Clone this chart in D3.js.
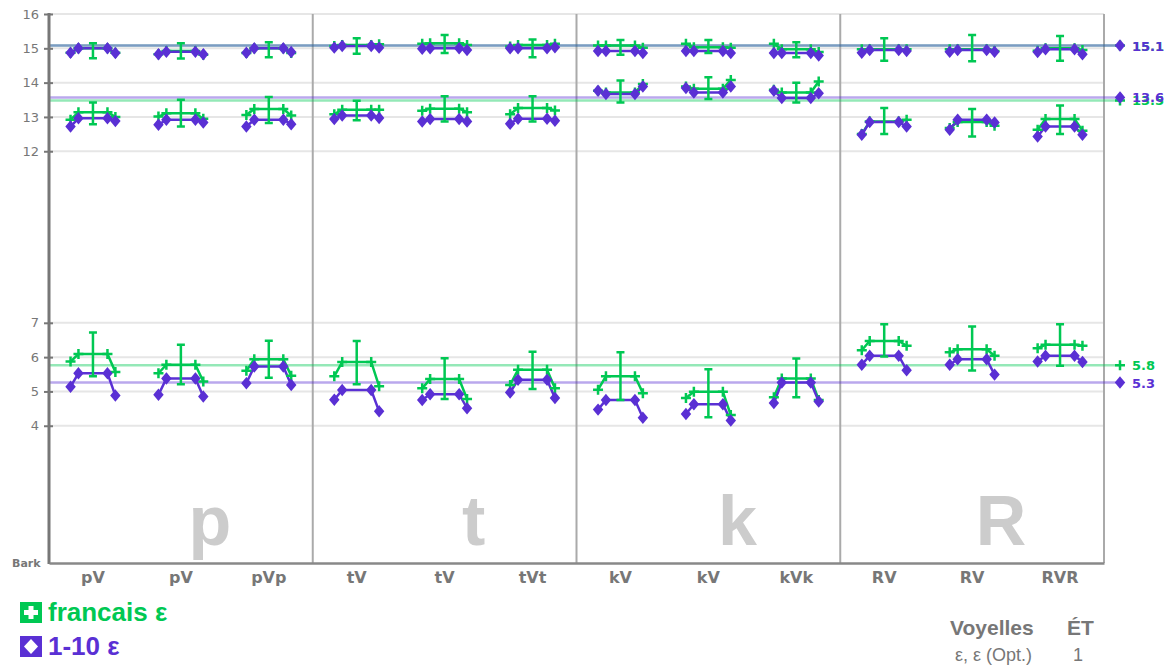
<!DOCTYPE html>
<html><head><meta charset="utf-8">
<script src="https://cdn.jsdelivr.net/npm/d3@7"></script>
<style>body{margin:0;background:#fff}svg{display:block}</style>
</head><body>
<svg id="c" width="1166" height="666"></svg>
<script>
// ---------- DATA ----------
const groups = ["pV","pV","pVp","tV","tV","tVt","kV","kV","kVk","RV","RV","RVR"];
const panels = ["p","t","k","R"];
const yTicks = [4,5,6,7,12,13,14,15,16];
const seriesNames = ["francais ε","1-10 ε"];

// francais ε (green): 4 points per group [start, v1, v2, end]
const frF3 = [[14.87,15.00,15.00,14.87],[14.83,14.92,14.92,14.81],[14.86,15.00,15.00,14.86],
  [15.07,15.10,15.10,15.12],[15.13,15.15,15.15,15.10],[15.05,15.10,15.10,15.13],
  [15.08,15.08,15.08,15.02],[15.13,15.03,15.03,15.02],[15.13,14.97,14.97,14.89],
  [14.97,14.97,14.97,14.97],[14.97,14.97,14.97,14.92],[14.93,15.00,15.00,14.95]];
const frF2 = [[12.92,13.14,13.14,13.00],[13.01,13.11,13.11,12.95],[13.06,13.23,13.23,13.04],
  [13.08,13.21,13.21,13.21],[13.18,13.24,13.24,13.14],[13.08,13.26,13.26,13.19],
  [13.76,13.71,13.71,13.96],[13.89,13.82,13.82,14.08],[13.79,13.71,13.71,14.03],
  [12.50,12.87,12.87,12.92],[12.68,12.85,12.85,12.74],[12.63,12.94,12.94,12.60]];
const frF1 = [[5.87,6.09,6.09,5.57],[5.53,5.78,5.78,5.29],[5.60,5.94,5.94,5.46],
  [5.44,5.86,5.86,5.15],[5.09,5.36,5.36,4.78],[5.19,5.63,5.63,5.09],
  [5.05,5.44,5.44,4.95],[4.81,4.99,4.99,4.31],[4.83,5.38,5.38,4.75],
  [6.20,6.47,6.47,6.33],[6.14,6.23,6.23,6.04],[6.26,6.36,6.36,6.33]];
// error bars (low, high) of francais ε
const frF3Err = [[14.71,15.15],[14.70,15.15],[14.74,15.18],[14.84,15.29],[14.86,15.39],[14.74,15.26],
  [14.81,15.24],[14.86,15.24],[14.74,15.18],[14.64,15.29],[14.62,15.39],[14.64,15.36]];
const frF2Err = [[12.79,13.42],[12.72,13.50],[12.82,13.58],[12.90,13.47],[12.87,13.60],[12.87,13.60],
  [13.42,14.06],[13.52,14.16],[13.42,14.00],[12.50,13.26],[12.43,13.23],[12.50,13.33]];
const frF1Err = [[5.44,6.72],[5.21,6.36],[5.40,6.48],[5.21,6.47],[4.78,5.97],[5.07,6.16],
  [4.75,6.14],[4.25,5.65],[4.83,5.96],[6.02,6.96],[5.61,6.89],[5.75,6.96]];

// 1-10 ε (purple)
const puF3 = [[14.87,15.00,15.00,14.86],[14.83,14.90,14.90,14.83],[14.87,15.00,15.00,14.89],
  [15.02,15.07,15.07,15.02],[14.99,15.00,15.00,14.95],[15.00,15.00,15.00,15.03],
  [14.92,14.92,14.92,14.86],[14.92,14.92,14.92,14.86],[14.86,14.86,14.86,14.79],
  [14.87,14.95,14.95,14.92],[14.90,14.95,14.95,14.90],[14.89,14.97,14.97,14.83]];
const puF2 = [[12.72,12.96,12.96,12.88],[12.77,12.92,12.92,12.84],[12.72,12.92,12.92,12.79],
  [12.94,13.04,13.04,12.97],[12.87,12.94,12.94,12.87],[12.80,12.95,12.95,12.89],
  [13.76,13.67,13.67,13.89],[13.84,13.71,13.71,13.89],[13.76,13.55,13.55,13.69],
  [12.48,12.85,12.85,12.72],[12.63,12.92,12.92,12.84],[12.43,12.72,12.72,12.48]];
const puF1 = [[5.14,5.53,5.53,4.88],[4.90,5.38,5.38,4.85],[5.24,5.73,5.73,5.19],
  [4.76,5.04,5.04,4.42],[4.75,4.92,4.92,4.51],[4.97,5.34,5.34,4.81],
  [4.47,4.75,4.75,4.23],[4.34,4.63,4.63,4.15],[4.66,5.26,5.26,4.71],
  [5.78,6.04,6.04,5.62],[5.78,5.94,5.94,5.49],[5.87,6.04,6.04,5.86]];

// reference (mean) lines
const frRef = [5.76, 13.48, 15.08];
const puRef = [5.26, 13.57, 15.08];

// ---------- LAYOUT ----------
const GREEN = "#00c853", PURPLE = "#5a30d4", GREY = "#777";
const svg = d3.select("#c");
const L = 49, R = 1104, T = 14, B = 563;
const x = d3.scaleBand().domain(d3.range(groups.length)).range([L, R]);
const y = d3.scaleLinear().domain([0, 16]).range([B, T]);
const slot = [0.245, 0.335, 0.665, 0.755];
const px = (g, k) => x(g) + slot[k] * x.bandwidth();
const cx = g => x(g) + x.bandwidth() / 2;

// gridlines
svg.append("g").selectAll("line").data(yTicks).join("line")
  .attr("x1", L).attr("x2", R).attr("y1", d => y(d)).attr("y2", d => y(d))
  .attr("stroke", "#e6e6e6").attr("stroke-width", 2);

// big panel letters
const pw = (R - L) / panels.length;
svg.append("g").selectAll("text").data(panels).join("text")
  .attr("x", (d, i) => L + pw * i + pw / 2 + 29).attr("y", 545)
  .attr("text-anchor", "middle").attr("font-family", "Liberation Sans, Arial, sans-serif")
  .attr("font-weight", "bold").attr("font-size", 70).attr("fill", "#cccccc").text(d => d);

// panel separators + right border
const seps = d3.range(1, panels.length).map(i => x(i * 3));
svg.append("g").selectAll("line").data(seps.concat([R])).join("line")
  .attr("x1", d => d).attr("x2", d => d).attr("y1", T).attr("y2", B)
  .attr("stroke", "#aaa").attr("stroke-width", 2);

// reference lines
function refLine(vals, color, marker) {
  const g = svg.append("g");
  g.selectAll("line").data(vals).join("line")
    .attr("x1", L).attr("x2", 1120).attr("y1", d => y(d)).attr("y2", d => y(d))
    .attr("stroke", color).attr("stroke-opacity", 0.42).attr("stroke-width", 2.5);
  g.selectAll("path").data(vals).join("path")
    .attr("transform", d => `translate(1120,${y(d)})`).attr("d", marker)
    .attr("stroke", color).attr("fill", color).attr("stroke-width", 2.5);
  g.selectAll("text").data(vals).join("text")
    .attr("x", 1132).attr("y", d => y(d) + 5).attr("fill", color)
    .attr("font-family", "DejaVu Sans, Verdana, sans-serif").attr("font-weight", "bold")
    .attr("font-size", 13).text(d => d.toFixed(1));
}
const plusPath = "M-5,0H5M0,-5V5";
const diamPath = "M0,-4.3L3.6,0L0,4.3L-3.6,0Z";
refLine(frRef, GREEN, plusPath);
refLine(puRef, PURPLE, diamPath);

// y axis
const yAxis = svg.append("g").attr("transform", `translate(${L},0)`)
  .call(d3.axisLeft(y).tickValues(yTicks).tickSize(5).tickPadding(5));
yAxis.select(".domain").remove();
yAxis.selectAll(".tick line").attr("stroke", GREY).attr("stroke-width", 2).attr("x2", 4).attr("x1", -5);
yAxis.selectAll(".tick text").attr("fill", GREY).attr("font-size", 13)
  .attr("font-family", "DejaVu Sans, Verdana, sans-serif");
svg.append("line").attr("x1", L).attr("x2", L).attr("y1", T - 1).attr("y2", B + 1)
  .attr("stroke", GREY).attr("stroke-width", 3);

// x axis
const xAxis = svg.append("g").attr("transform", `translate(0,${B})`)
  .call(d3.axisBottom(x).tickFormat(i => groups[i]).tickSize(0).tickPadding(9));
xAxis.select(".domain").attr("stroke", "#888").attr("stroke-width", 2.5);
xAxis.selectAll(".tick text").attr("fill", GREY).attr("font-size", 16).attr("font-weight", "bold")
  .attr("font-family", "DejaVu Sans, Verdana, sans-serif");
svg.append("text").attr("x", 12).attr("y", 567).attr("fill", GREY).attr("font-weight", "bold")
  .attr("font-size", 11).attr("font-family", "DejaVu Sans, Verdana, sans-serif").text("Bark");

// series
const line = d3.line().x(d => d[0]).y(d => d[1]);
function seriesLines(sets, color) {
  const g = svg.append("g");
  sets.forEach(set => set.forEach((vals, gi) => {
    g.append("path").attr("d", line(vals.map((v, k) => [px(gi, k), y(v)])))
      .attr("fill", "none").attr("stroke", color).attr("stroke-width", 2.5);
  }));
}
function seriesMarkers(sets, color, path) {
  const g = svg.append("g");
  sets.forEach(set => set.forEach((vals, gi) => vals.forEach((v, k) => {
    g.append("path").attr("transform", `translate(${px(gi, k)},${y(v)})`).attr("d", path)
      .attr("fill", color).attr("stroke", color).attr("stroke-width", 2.5);
  })));
}
function errorBars(sets, color) {
  const g = svg.append("g");
  sets.forEach(set => set.forEach((e, gi) => {
    const c = cx(gi);
    g.append("path")
      .attr("d", `M${c},${y(e[0])}V${y(e[1])}M${c - 4},${y(e[0])}H${c + 4}M${c - 4},${y(e[1])}H${c + 4}`)
      .attr("fill", "none").attr("stroke", color).attr("stroke-width", 2.5);
  }));
}
const frSets = [frF1, frF2, frF3], puSets = [puF1, puF2, puF3];
seriesLines(frSets, GREEN);
seriesLines(puSets, PURPLE);
errorBars([frF1Err, frF2Err, frF3Err], GREEN);
seriesMarkers(frSets, GREEN, plusPath);
seriesMarkers(puSets, PURPLE, diamPath);

// legend
const leg = svg.append("g");
[[GREEN, "plus"], [PURPLE, "diam"]].forEach(([col, kind], i) => {
  const yy = 602 + i * 34;
  leg.append("rect").attr("x", 20).attr("y", yy).attr("width", 22).attr("height", 21).attr("fill", col);
  if (kind === "plus")
    leg.append("path").attr("d", `M${31},${yy + 4}V${yy + 17}M${24},${yy + 10.5}H${38}`)
      .attr("stroke", "#fff").attr("stroke-width", 5);
  else
    leg.append("path").attr("d", `M31,${yy + 3}L38,${yy + 10.5}L31,${yy + 18}L24,${yy + 10.5}Z`).attr("fill", "#fff");
  leg.append("text").attr("x", 48).attr("y", yy + 19).attr("fill", col)
    .attr("font-family", "Liberation Sans, Arial, sans-serif").attr("font-weight", "bold")
    .attr("font-size", 26).text(seriesNames[i]);
});

// info table
const info = svg.append("g").attr("font-family", "Liberation Sans, Arial, sans-serif").attr("fill", GREY);
info.append("text").attr("x", 950).attr("y", 635).attr("font-weight", "bold").attr("font-size", 21).text("Voyelles");
info.append("text").attr("x", 1067).attr("y", 635).attr("font-weight", "bold").attr("font-size", 21).text("ÉT");
info.append("text").attr("x", 955).attr("y", 661).attr("font-size", 18).text("ε, ε (Opt.)");
info.append("text").attr("x", 1073).attr("y", 661).attr("font-size", 18).text("1");
</script>
</body></html>
